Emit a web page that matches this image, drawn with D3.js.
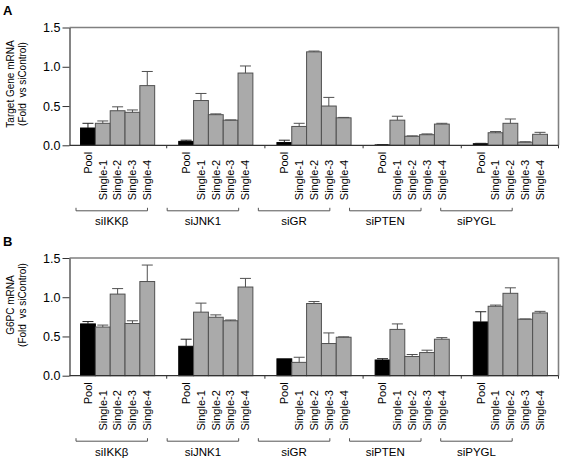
<!DOCTYPE html>
<html>
<head>
<meta charset="utf-8">
<script src="https://cdn.jsdelivr.net/npm/d3@7"></script>
<style>
  html, body { margin: 0; padding: 0; background: #fff; }
  svg { display: block; font-family: "Liberation Sans", Arial, sans-serif; }
  text { white-space: pre; }
</style>
</head>
<body>
<svg id="chart" width="564" height="460"></svg>
<script>
// ---------- data ----------
const groups = ["siIKKβ", "siJNK1", "siGR", "siPTEN", "siPYGL"];
const samples = ["Pool", "Single-1", "Single-2", "Single-3", "Single-4"];
const yTicks = [0, 0.5, 1.0, 1.5];

// Panel A: Target Gene mRNA (fold vs siControl), rows = groups, cols = samples
const targetMean = [
  [0.22, 0.28, 0.44, 0.42, 0.76],
  [0.05, 0.57, 0.39, 0.32, 0.92],
  [0.035, 0.24, 1.19, 0.50, 0.35],
  [0.005, 0.32, 0.115, 0.135, 0.27],
  [0.02, 0.16, 0.28, 0.04, 0.14]
];
const targetErr = [
  [0.06, 0.03, 0.05, 0.03, 0.18],
  [0.015, 0.09, 0.01, 0.003, 0.09],
  [0.03, 0.04, 0.01, 0.11, 0.005],
  [0.003, 0.05, 0.005, 0.01, 0.01],
  [0.005, 0.015, 0.055, 0.005, 0.025]
];
// Panel B: G6PC mRNA (fold vs siControl)
const g6pcMean = [
  [0.66, 0.62, 1.04, 0.665, 1.20],
  [0.375, 0.81, 0.745, 0.70, 1.13],
  [0.215, 0.17, 0.92, 0.41, 0.49],
  [0.20, 0.59, 0.245, 0.295, 0.465],
  [0.685, 0.885, 1.05, 0.72, 0.80]
];
const g6pcErr = [
  [0.03, 0.025, 0.07, 0.035, 0.21],
  [0.09, 0.115, 0.03, 0.01, 0.11],
  [0, 0.065, 0.025, 0.135, 0.005],
  [0.017, 0.07, 0.025, 0.03, 0.02],
  [0.13, 0.015, 0.07, 0.003, 0.02]
];

// ---------- drawing ----------
const svg = d3.select("#chart");
const left = 69.5, right = 558.5;

const xGroup = d3.scaleBand().domain(groups).range([left, right])
  .paddingInner(0.245).paddingOuter(0.1125);
const xSample = d3.scaleBand().domain(samples).range([0, xGroup.bandwidth()]).padding(0);
const xBracket = d3.scaleBand().domain(groups).range([76, 512.2])
  .paddingInner(0.216).paddingOuter(0);

function drawPanel(cfg) {
  const y = d3.scaleLinear().domain([0, 1.5]).range([cfg.bottom, cfg.top]);
  const g = svg.append("g");

  // panel letter
  g.append("text").attr("x", 3).attr("y", cfg.top - 12.5)
    .attr("font-size", 13).attr("font-weight", "bold").attr("fill", "#000")
    .text(cfg.letter);

  // frame (top and right)
  g.append("path")
    .attr("d", `M${left},${cfg.top}H${right}V${cfg.bottom}`)
    .attr("fill", "none").attr("stroke", "#808080").attr("stroke-width", 1.6);

  // bars
  const data = [];
  groups.forEach((grp, gi) => samples.forEach((s, si) => {
    data.push({grp, s, v: cfg.mean[gi][si], e: cfg.err[gi][si]});
  }));
  const bx = d => xGroup(d.grp) + xSample(d.s);
  g.selectAll("rect.bar").data(data).join("rect")
    .attr("class", "bar")
    .attr("x", bx)
    .attr("y", d => y(d.v))
    .attr("width", xSample.bandwidth())
    .attr("height", d => y(0) - y(d.v))
    .attr("fill", d => d.s === "Pool" ? "#000" : "#aaaaaa")
    .attr("stroke", d => d.s === "Pool" ? "#000" : "#505050")
    .attr("stroke-width", 1);

  // error bars (upper)
  const capW = 11;
  const eb = g.selectAll("g.err").data(data.filter(d => d.e > 0)).join("g")
    .attr("class", "err");
  eb.append("line")
    .attr("x1", d => bx(d) + xSample.bandwidth() / 2)
    .attr("x2", d => bx(d) + xSample.bandwidth() / 2)
    .attr("y1", d => y(d.v)).attr("y2", d => y(d.v + d.e))
    .attr("stroke", d => d.s === "Pool" ? "#222" : "#505050").attr("stroke-width", 1);
  eb.append("line")
    .attr("x1", d => bx(d) + xSample.bandwidth() / 2 - capW / 2)
    .attr("x2", d => bx(d) + xSample.bandwidth() / 2 + capW / 2)
    .attr("y1", d => y(d.v + d.e)).attr("y2", d => y(d.v + d.e))
    .attr("stroke", d => d.s === "Pool" ? "#222" : "#505050").attr("stroke-width", 1);

  // y axis
  const ya = g.append("g").attr("transform", `translate(${left},0)`)
    .call(d3.axisLeft(y).tickValues(yTicks).tickFormat(d3.format(".1f"))
      .tickSize(7).tickPadding(2).tickSizeOuter(0));
  ya.select(".domain").attr("stroke", "#333").attr("stroke-width", 1.2);
  ya.selectAll(".tick line").attr("stroke", "#333");
  ya.selectAll(".tick text").attr("font-size", 12.5).attr("fill", "#000")
    .attr("font-family", "Liberation Sans, Arial, sans-serif");

  // x axis baseline
  g.append("line").attr("x1", left).attr("x2", right)
    .attr("y1", y(0)).attr("y2", y(0))
    .attr("stroke", "#333").attr("stroke-width", 1.2);
  // group separator ticks
  const sep = groups.slice(0, -1).map(grp =>
    xGroup(grp) + xGroup.bandwidth() + (xGroup.step() - xGroup.bandwidth()) / 2);
  sep.push(right);
  g.selectAll("line.sep").data(sep).join("line")
    .attr("class", "sep")
    .attr("x1", d => d).attr("x2", d => d)
    .attr("y1", y(0)).attr("y2", y(0) + 3)
    .attr("stroke", "#333").attr("stroke-width", 1);

  // x tick labels (rotated)
  g.selectAll("text.xl").data(data).join("text")
    .attr("class", "xl")
    .attr("transform", d => `translate(${bx(d) + xSample.bandwidth() / 2},${y(0) + (d.s === "Pool" ? 6.5 : 14.5)}) rotate(-90)`)
    .attr("text-anchor", "end").attr("dy", "0.35em")
    .attr("font-size", 11).attr("fill", "#000")
    .text(d => d.s);

  // brackets
  const by = cfg.bottom + 65.5;
  g.selectAll("path.br").data(groups).join("path")
    .attr("class", "br")
    .attr("d", grp => `M${xBracket(grp)},${by - 3}V${by}H${xBracket(grp) + xBracket.bandwidth()}V${by - 3}`)
    .attr("fill", "none").attr("stroke", "#555").attr("stroke-width", 1);
  g.selectAll("text.gl").data(groups).join("text")
    .attr("class", "gl")
    .attr("x", grp => xBracket(grp) + xBracket.bandwidth() / 2)
    .attr("y", by + 14.5)
    .attr("text-anchor", "middle").attr("font-size", 11.5).attr("fill", "#000")
    .text(grp => grp);

  // y title
  const tc = cfg.titleCenter;
  g.append("text").attr("transform", `translate(14,${tc}) rotate(-90)`)
    .attr("text-anchor", "middle").attr("font-size", 10).attr("fill", "#000")
    .text(cfg.title1);
  g.append("text").attr("transform", `translate(26.3,${tc}) rotate(-90)`)
    .attr("text-anchor", "middle").attr("font-size", 10).attr("fill", "#000")
    .text(cfg.title2);
}

drawPanel({letter: "A", top: 27.5, bottom: 145.3, mean: targetMean, err: targetErr,
  title1: "Target Gene mRNA", title2: "(Fold  vs siControl)", titleCenter: 84});
drawPanel({letter: "B", top: 258, bottom: 375.7, mean: g6pcMean, err: g6pcErr,
  title1: "G6PC mRNA", title2: "(Fold  vs siControl)", titleCenter: 305});
</script>
</body>
</html>
